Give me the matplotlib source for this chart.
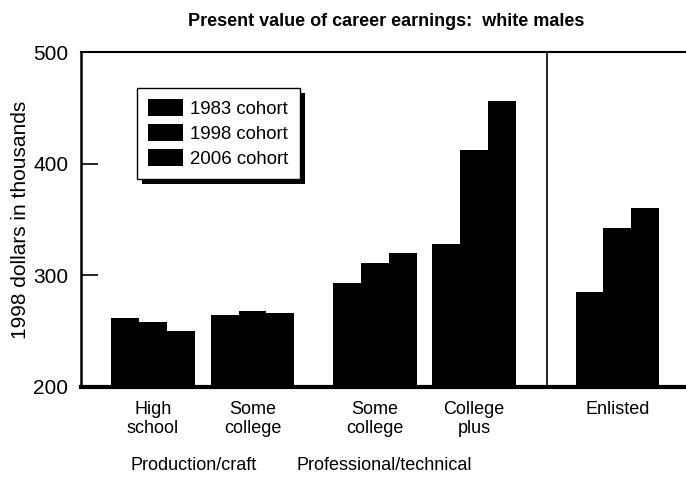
import matplotlib
matplotlib.use("Agg")
from matplotlib import pyplot as plt
from matplotlib.patches import Rectangle
from matplotlib.transforms import blended_transform_factory
import numpy as np

plt.rcParams['font.family'] = ['Liberation Sans', 'DejaVu Sans']

# data
categories = ["High\nschool", "Some\ncollege", "Some\ncollege", "College\nplus", "Enlisted"]
groups = ["Production/craft", "Professional/technical"]
cohorts = ["1983 cohort", "1998 cohort", "2006 cohort"]
v1983 = [261.5, 264.5, 293, 328.5, 285.5]
v1998 = [258.5, 268, 311, 412, 342]
v2006 = [250.5, 266, 320, 456.5, 360]

# layout (bar width = 1)
centers = np.array([0, 3.58, 7.99, 11.55, 16.7])
offsets = [-1, 0, 1]

fig = plt.figure(figsize=(6.86, 4.8), dpi=100)
ax = fig.add_axes([81/686, 93/480, 1 - 81/686, 335/480])

for vals, off, lab in zip([v1983, v1998, v2006], offsets, cohorts):
    ax.bar(centers + off, np.array(vals) - 200, bottom=200, width=1.0,
           color="black", edgecolor="none", label=lab)

ax.set_xlim(-2.59, 19.17)
ax.set_ylim(200, 500)
ax.axvline(14.16, color="black", lw=1.2)

ax.set_yticks([200, 300, 400, 500])
ax.tick_params(axis="y", direction="in", length=12, width=1.2, pad=9, labelsize=15)
ax.set_xticks(centers, categories)
ax.tick_params(axis="x", length=0, pad=10, labelsize=13)

ax.spines["right"].set_visible(False)
ax.spines["left"].set_linewidth(1.8)
ax.spines["top"].set_linewidth(1.5)
ax.spines["bottom"].set_linewidth(3)

ax.set_ylabel("1998 dollars in thousands", fontsize=15)
ax.yaxis.set_label_coords(-0.084, 0.5)

tr = blended_transform_factory(ax.transData, fig.transFigure)
ax.text(1.47, 1 - 466/480, groups[0], transform=tr, ha="center", va="center", fontsize=13)
ax.text(8.31, 1 - 466/480, groups[1], transform=tr, ha="center", va="center", fontsize=13)

fig.text(386/686, 1 - 21/480, "Present value of career earnings:  white males",
         ha="center", va="center", fontsize=13, fontweight="bold")

leg = ax.legend(loc="upper left", bbox_to_anchor=((137 - 81)/605, (387 - 88)/335),
                fancybox=False, edgecolor="black", framealpha=1,
                fontsize=13.4, handlelength=1.88, handleheight=1.0,
                labelspacing=0.33, handletextpad=0.38, borderpad=0.6,
                borderaxespad=0)
leg.get_frame().set_linewidth(1.0)
leg.set_zorder(5)

# solid drop shadow, offset down-right like the printed original
fig.canvas.draw()
bb = leg.get_window_extent()
ax.add_patch(Rectangle((bb.x0 + 5, bb.y0 - 5), bb.width, bb.height,
                       transform=None, facecolor="black", edgecolor="none",
                       zorder=4.9, clip_on=False))

fig.savefig("out.png", dpi=100)
plt.close(fig)
